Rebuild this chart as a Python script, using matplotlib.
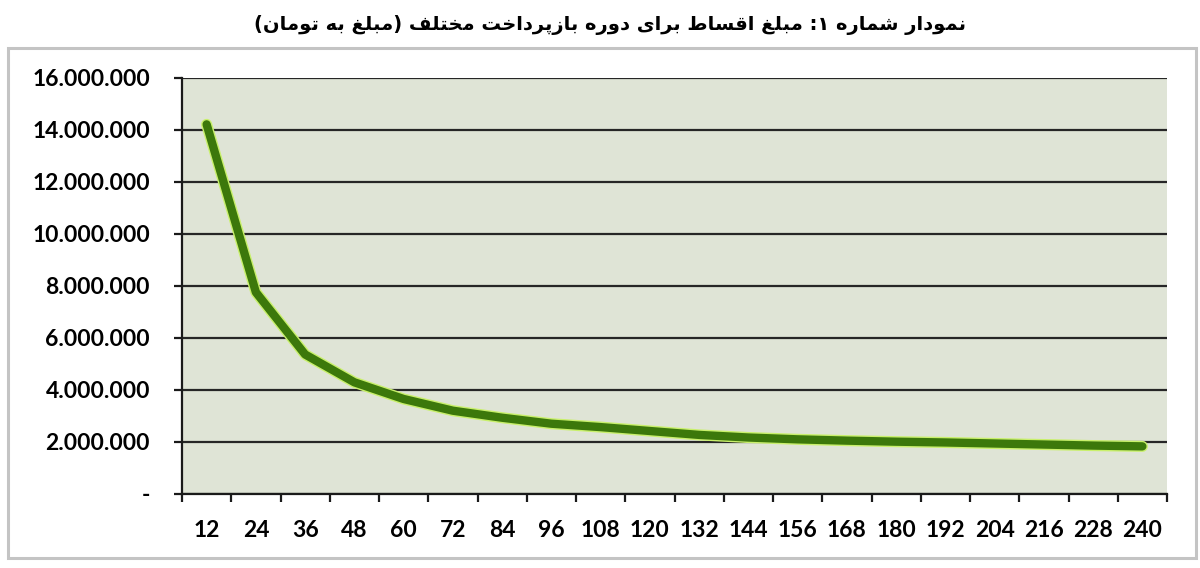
import numpy as np
import matplotlib
matplotlib.use("Agg")
import matplotlib.pyplot as plt
from matplotlib.patches import Rectangle
from matplotlib.ticker import FuncFormatter

# repayment period (months) and monthly instalment (toman)
months = [12, 24, 36, 48, 60, 72, 84, 96, 108, 120,
          132, 144, 156, 168, 180, 192, 204, 216, 228, 240]
payment = [14200000, 7750000, 5360000, 4290000, 3650000, 3200000, 2930000,
           2700000, 2570000, 2420000, 2270000, 2170000, 2100000, 2050000,
           2010000, 1980000, 1940000, 1900000, 1860000, 1830000]
yticks = [0, 2000000, 4000000, 6000000, 8000000, 10000000, 12000000,
          14000000, 16000000]
title = "نمودار شماره ۱: مبلغ اقساط برای دوره بازپرداخت مختلف (مبلغ به تومان)"

# matplotlib has no arabic shaping / bidi, so do a small version by hand
# forms: (isolated, final, initial, medial)
forms = {
    'ا': (0xFE8D, 0xFE8E, None, None), 'ب': (0xFE8F, 0xFE90, 0xFE91, 0xFE92),
    'ت': (0xFE95, 0xFE96, 0xFE97, 0xFE98), 'خ': (0xFEA5, 0xFEA6, 0xFEA7, 0xFEA8),
    'د': (0xFEA9, 0xFEAA, None, None), 'ر': (0xFEAD, 0xFEAE, None, None),
    'ز': (0xFEAF, 0xFEB0, None, None), 'س': (0xFEB1, 0xFEB2, 0xFEB3, 0xFEB4),
    'ش': (0xFEB5, 0xFEB6, 0xFEB7, 0xFEB8), 'ط': (0xFEC1, 0xFEC2, 0xFEC3, 0xFEC4),
    'غ': (0xFECD, 0xFECE, 0xFECF, 0xFED0), 'ف': (0xFED1, 0xFED2, 0xFED3, 0xFED4),
    'ق': (0xFED5, 0xFED6, 0xFED7, 0xFED8), 'ل': (0xFEDD, 0xFEDE, 0xFEDF, 0xFEE0),
    'م': (0xFEE1, 0xFEE2, 0xFEE3, 0xFEE4), 'ن': (0xFEE5, 0xFEE6, 0xFEE7, 0xFEE8),
    'ه': (0xFEE9, 0xFEEA, 0xFEEB, 0xFEEC), 'و': (0xFEED, 0xFEEE, None, None),
    'پ': (0xFB56, 0xFB57, 0xFB58, 0xFB59), 'ی': (0xFBFC, 0xFBFD, 0xFBFE, 0xFBFF),
}
mirror = {'(': ')', ')': '('}


def shape(s):
    out = []
    for i, c in enumerate(s):
        if c not in forms:
            out.append(mirror.get(c, c))
            continue
        f = forms[c]
        prev_joins = i > 0 and s[i-1] in forms and forms[s[i-1]][2] is not None
        next_ok = i < len(s) - 1 and s[i+1] in forms and f[2] is not None
        if prev_joins and next_ok:
            out.append(chr(f[3]))
        elif prev_joins:
            out.append(chr(f[1]))
        elif next_ok:
            out.append(chr(f[2]))
        else:
            out.append(chr(f[0]))
    # right-to-left: draw from the end
    return "".join(out[::-1])


fig = plt.figure(figsize=(12, 5.68), dpi=100)
fig.patch.set_facecolor("white")

fig.patches.append(Rectangle((8/1200, 10/568), 1188/1200, 510/568,
                             transform=fig.transFigure, fill=False,
                             edgecolor="#c4c4c4", linewidth=2.2))

fig.text(0.508, 1 - 25/568, shape(title), ha="center", va="center",
         fontsize=14, fontweight="bold", family=["DejaVu Sans"])

ax = fig.add_axes([182/1200, 74/568, 985/1200, 416.5/568])
ax.set_facecolor("#dfe4d6")

x = np.arange(len(months))
ax.plot(x, payment, color="#c9f06c", lw=8, solid_capstyle="round",
        solid_joinstyle="round", zorder=3)
ax.plot(x, payment, color="#3c780b", lw=6, solid_capstyle="round",
        solid_joinstyle="round", zorder=4)

ax.set_xlim(-0.5, len(months) - 0.5)
ax.set_ylim(0, 16000000)
ax.set_yticks(yticks)
ax.yaxis.set_major_formatter(FuncFormatter(
    lambda v, p: "-" if v == 0 else f"{int(v):,}".replace(",", ".")))
ax.set_xticks(np.arange(-0.5, len(months), 1.0))
ax.set_xticklabels([])
ax.set_xticks(x, minor=True)
ax.set_xticklabels([str(m) for m in months], minor=True)

ax.grid(axis="y", color="#262626", linewidth=1.6, zorder=1)
ax.set_axisbelow(True)
for s in ["top", "right"]:
    ax.spines[s].set_visible(False)
for s in ["left", "bottom"]:
    ax.spines[s].set_color("#1a1a1a")
    ax.spines[s].set_linewidth(1.6)

ax.tick_params(axis="y", length=6, width=1.6, color="#1a1a1a", pad=17,
               labelsize=16.5)
ax.tick_params(axis="x", which="major", length=6, width=1.6, color="#1a1a1a")
ax.tick_params(axis="x", which="minor", length=0, pad=19, labelsize=16.5)
for lab in ax.get_yticklabels() + ax.get_xticklabels(minor=True):
    lab.set_fontweight("bold")
    lab.set_family("Lato")

fig.savefig("out.png", dpi=100)
